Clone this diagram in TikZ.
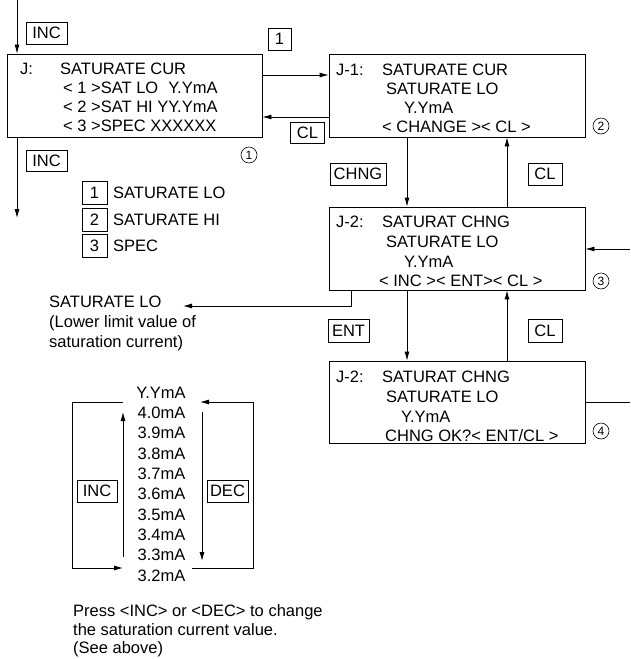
\documentclass[tikz,border=0pt]{standalone}
\usepackage{fontspec}
\setmainfont{Liberation Sans}
\usetikzlibrary{arrows.meta}
\tikzset{
  scr/.style={draw, line width=0.8pt, minimum width=256pt, minimum height=83pt, inner sep=0pt},
  keybox/.style={draw, line width=0.8pt, inner sep=0pt, minimum height=22pt, font=\fontsize{16.5}{18}\selectfont},
  txt/.style={anchor=base west, inner sep=0pt, font=\fontsize{16.5}{18}\selectfont},
  ctxt/.style={anchor=base, inner sep=0pt, font=\fontsize{16.5}{18}\selectfont},
  num/.style={draw, circle, line width=0.6pt, inner sep=0pt, minimum size=16pt, font=\fontsize{12}{12}\selectfont},
  arr/.style={line width=0.8pt, -{Latex[length=9pt,width=5pt]}},
  ln/.style={line width=0.8pt}
}
\begin{document}
\begin{tikzpicture}[x=1pt,y=-1pt]
\useasboundingbox (0,0) rectangle (630,659);

% screens
\node[scr, minimum width=255pt] (sj) at (134.5,95.5) {};
\node[scr] (sj1) at (457,95.5) {};
\node[scr] (sj2) at (457,248.5) {};
\node[scr, minimum height=82pt] (sj3) at (457,402) {};

% screen J text
\node[txt] (a1) at (20,74) {J:};
\node[txt] (a2) at (60,74) {SATURATE CUR};
\node[txt] (a3) at (63,93.5) {< 1 >SAT LO\hspace{5.5pt} Y.YmA};
\node[txt] (a4) at (63,112.5) {< 2 >SAT HI YY.YmA};
\node[txt] (a5) at (63,131.5) {< 3 >SPEC XXXXXX};

% screen J-1 text
\node[txt] (b1) at (336,75) {J-1:};
\node[txt] (b2) at (382,75) {SATURATE CUR};
\node[txt] (b3) at (386,94) {SATURATE LO};
\node[txt] (b4) at (404,113) {Y.YmA};
\node[txt] (b5) at (382,132) {< CHANGE >< CL >};

% screen J-2 text
\node[txt] (c1) at (336,227) {J-2:};
\node[txt] (c2) at (382,227) {SATURAT CHNG};
\node[txt] (c3) at (386,247) {SATURATE LO};
\node[txt] (c4) at (404,267) {Y.YmA};
\node[txt] (c5) at (379,286) {< INC >< ENT>< CL >};

% screen J-2 (confirm) text
\node[txt] (d1) at (336,382) {J-2:};
\node[txt] (d2) at (382,382) {SATURAT CHNG};
\node[txt] (d3) at (386,402) {SATURATE LO};
\node[txt] (d4) at (401,422) {Y.YmA};
\node[txt] (d5) at (385,441) {CHNG OK?< ENT/CL >};

% circled numbers
\node[num] (n1) at (249,155) {1};
\node[num] (n2) at (601,126) {2};
\node[num] (n3) at (601,281) {3};
\node[num] (n4) at (601,431) {4};

% key boxes
\node[keybox, minimum width=41pt] (kinc1) at (46.5,33) {INC};
\node[keybox, minimum width=23pt] (k1) at (279.5,39) {1};
\node[keybox, minimum width=34pt, minimum height=21pt] (kcl1) at (307.5,133) {CL};
\node[keybox, minimum width=41pt, minimum height=21pt] (kinc2) at (46.5,161) {INC};
\node[keybox, minimum width=56pt] (kchng) at (358,174) {CHNG};
\node[keybox, minimum width=34pt] (kcl2) at (545,174) {CL};
\node[keybox, minimum width=41pt, minimum height=23pt] (kent) at (348.5,330.5) {ENT};
\node[keybox, minimum width=34pt, minimum height=23pt] (kcl3) at (545,330.5) {CL};

% legend
\node[keybox, minimum width=25pt, minimum height=23pt] (l1) at (94.5,193) {1};
\node[keybox, minimum width=25pt, minimum height=23pt] (l2) at (94.5,219.5) {2};
\node[keybox, minimum width=25pt, minimum height=23pt] (l3) at (94.5,245.5) {3};
\node[txt] (lt1) at (113,198.5) {SATURATE LO};
\node[txt] (lt2) at (113,225) {SATURATE HI};
\node[txt] (lt3) at (113,251) {SPEC};

% connectors around J
\coordinate (top) at (17,0);
\coordinate (bot) at (17,218);
\draw[arr] (top) -- (sj.north -| top);
\draw[arr] (sj.south -| top) -- (bot);
\draw[arr] (sj.east |- 0,75) -- (sj1.west |- 0,75);
\draw[arr] (sj1.west |- 0,117) -- (sj.east |- 0,117);

% between J-1 and J-2
\draw[arr] (sj1.south -| 407,0) -- (sj2.north -| 407,0);
\draw[arr] (sj2.north -| 507,0) -- (sj1.south -| 507,0);
% between J-2 and J-2 confirm
\draw[arr] (sj2.south -| 407,0) -- (sj3.north -| 407,0);
\draw[arr] (sj3.north -| 507,0) -- (sj2.south -| 507,0);

% right side
\coordinate (rin) at (630,249);
\coordinate (rout) at (630,402);
\draw[arr] (rin) -- (sj2.east |- rin);
\draw[ln] (sj3.east |- rout) -- (rout);

% to SATURATE LO description
\coordinate (lotip) at (183,306);
\draw[arr] (sj2.south -| 351,0) -- (351,306) -- (lotip);
\node[txt] (e1) at (49,307) {SATURATE LO};
\node[txt] (e2) at (49,327) {(Lower limit value of};
\node[txt] (e3) at (49,347) {saturation current)};

% value list
\node[ctxt] (v0) at (161,398) {Y.YmA};
\node[ctxt] (v1) at (161.5,418.3) {4.0mA};
\node[ctxt] (v2) at (161.5,438.7) {3.9mA};
\node[ctxt] (v3) at (161.5,459) {3.8mA};
\node[ctxt] (v4) at (161.5,479.3) {3.7mA};
\node[ctxt] (v5) at (161.5,499.7) {3.6mA};
\node[ctxt] (v6) at (161.5,520) {3.5mA};
\node[ctxt] (v7) at (161.5,540.3) {3.4mA};
\node[ctxt] (v8) at (161.5,560.7) {3.3mA};
\node[ctxt] (v9) at (161.5,581) {3.2mA};

\node[keybox, minimum width=40pt] (kinc3) at (97,491) {INC};
\node[keybox, minimum width=41pt] (kdec) at (227.5,491) {DEC};

% INC bracket
\coordinate (il1) at (123,402);
\coordinate (il2) at (72,402);
\coordinate (il3) at (72,568);
\coordinate (il4) at (123,568);
\draw[ln] (il1) -- (il2) -- (il3);
\draw[arr] (il3) -- (il4);
\coordinate (iu1) at (123,557);
\coordinate (iu2) at (123,412);
\draw[arr] (iu1) -- (iu2);

% DEC bracket
\coordinate (dl1) at (192,568);
\coordinate (dl2) at (253,568);
\coordinate (dl3) at (253,402);
\coordinate (dl4) at (200,402);
\draw[ln] (dl1) -- (dl2) -- (dl3);
\draw[arr] (dl3) -- (dl4);
\coordinate (dd1) at (202,412);
\coordinate (dd2) at (202,561);
\draw[arr] (dd1) -- (dd2);

% note
\node[txt] (f1) at (73,616) {Press <INC> or <DEC> to change};
\node[txt] (f2) at (73,635) {the saturation current value.};
\node[txt] (f3) at (73,653) {(See above)};
\end{tikzpicture}
\end{document}
